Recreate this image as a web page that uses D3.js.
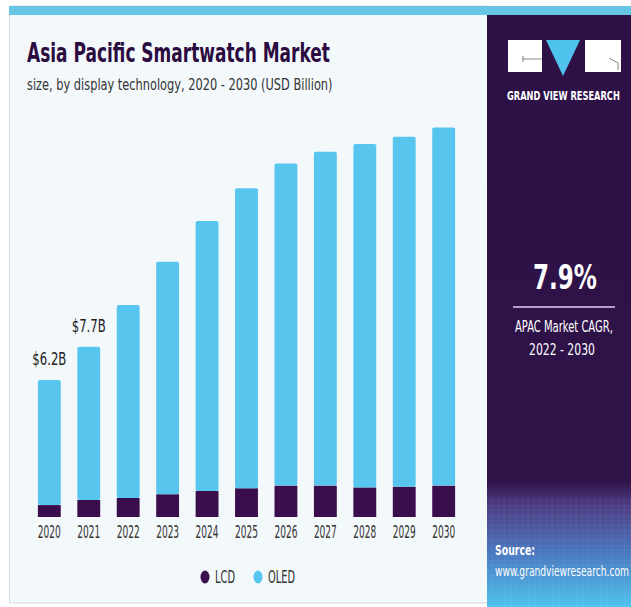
<!DOCTYPE html>
<html><head><meta charset="utf-8">
<script src="https://cdn.jsdelivr.net/npm/d3@7"></script>
<style>
html,body{margin:0;padding:0;background:#fff;}
svg{display:block;}
text{font-family:"DejaVu Sans Condensed","DejaVu Sans",sans-serif;font-stretch:condensed;}
</style></head><body>
<div id="chart"></div>
<script>
const years = ["2020","2021","2022","2023","2024","2025","2026","2027","2028","2029","2030"];
const lcd  = [0.54,0.77,0.86,1.03,1.18,1.30,1.42,1.42,1.34,1.37,1.42];
const oled = [5.66,6.93,8.73,10.52,12.21,13.57,14.58,15.11,15.54,15.84,16.21];
const valueLabels = ["$6.2B","$7.7B","","","","","","","","",""];
const seriesNames = ["LCD","OLED"];
const colors = {LCD:"#3a0e4c", OLED:"#58c5ef"};

const W = 631, H = 607;
const svg = d3.select("#chart").append("svg").attr("width", W).attr("height", H);
const defs = svg.append("defs");

// text squeezed horizontally to a target width with a real transform
function txt(sel, o){
  const g = sel.append("g");
  const t = g.append("text").attr("x",0).attr("y",0).attr("fill",o.fill||"#333")
    .attr("font-size",o.size).text(o.text);
  if (o.anchor) t.attr("text-anchor",o.anchor);
  if (o.bold) t.attr("font-weight","bold");
  const nat = t.node().getComputedTextLength();
  const s = o.len ? o.len / nat : 1;
  g.attr("transform", `translate(${o.x},${o.y}) scale(${s},1)`);
  return g;
}

// backgrounds
svg.append("rect").attr("x",0).attr("y",0).attr("width",W).attr("height",H).attr("fill","#ffffff");
svg.append("rect").attr("x",9.5).attr("y",6).attr("width",478).attr("height",597)
  .attr("fill","#f3f8fb").attr("stroke","#d6dade").attr("stroke-width",1);

// right panel gradient
const g1 = defs.append("linearGradient").attr("id","rp").attr("x1",0).attr("y1",0).attr("x2",0).attr("y2",1);
[[0,"#2d1046"],[0.79,"#2e1349"],[0.83,"#4d3c82"],[0.91,"#4a78c0"],[1,"#4fc3ee"]]
  .forEach(([o,c]) => g1.append("stop").attr("offset",o).attr("stop-color",c));
svg.append("rect").attr("x",487).attr("y",6).attr("width",W-487).attr("height",H-6).attr("fill","url(#rp)");
const pat = defs.append("pattern").attr("id","grid").attr("width",6).attr("height",5).attr("patternUnits","userSpaceOnUse");
pat.append("path").attr("d","M0 0H6M0 0V5").attr("stroke","#ffffff").attr("stroke-opacity",0.1).attr("stroke-width",0.8).attr("fill","none");
svg.append("rect").attr("x",487).attr("y",497).attr("width",W-487).attr("height",H-497).attr("fill","url(#grid)");

// top stripe
svg.append("rect").attr("x",9).attr("y",6).attr("width",W-9).attr("height",9).attr("fill","#66c6e4");

// title
txt(svg,{x:27,y:62,fill:"#2b0b40",size:27,bold:true,len:303,text:"Asia Pacific Smartwatch Market"});
txt(svg,{x:27,y:90,fill:"#333",size:16,len:306,text:"size, by display technology, 2020 - 2030 (USD Billion)"});

// scales
const x = d3.scaleBand().domain(years).range([30, 463]).paddingInner(0.42).paddingOuter(0.2);
const y = d3.scaleLinear().domain([0, 18]).range([517, 517 - 22.1*18]);

const data = years.map((yr,i) => ({year:yr, LCD:lcd[i], OLED:oled[i]}));
const stack = d3.stack().keys(seriesNames)(data);

const gBars = svg.append("g");
stack.forEach(layer => {
  gBars.selectAll(null).data(layer).enter().append("rect")
    .attr("x", d => x(d.data.year))
    .attr("width", x.bandwidth())
    .attr("y", d => y(d[1]))
    .attr("height", d => y(d[0]) - y(d[1]))
    .attr("rx", layer.key === "OLED" ? 2 : 0)
    .attr("fill", colors[layer.key]);
});

// value labels
const gVal = svg.append("g");
data.forEach((d,i) => {
  if (!valueLabels[i]) return;
  txt(gVal,{x:x(d.year)+x.bandwidth()/2, y:y(d.LCD+d.OLED)-15, anchor:"middle", size:18, fill:"#222", len:34, text:valueLabels[i]});
});

// x axis
const xAxis = svg.append("g").attr("transform","translate(0,517)")
  .call(d3.axisBottom(x).tickSize(0).tickPadding(9));
xAxis.select(".domain").remove();
xAxis.selectAll(".tick text").each(function(){
  const t = d3.select(this).attr("font-size",18.5).attr("fill","#333").attr("dy",null).attr("y",0)
    .style("font-family",'"DejaVu Sans Condensed","DejaVu Sans",sans-serif');
  const nat = this.getComputedTextLength();
  t.attr("transform",`translate(0,21) scale(${23/nat},1)`);
});

// legend
const leg = svg.append("g");
const legPos = [{k:"LCD",cx:205,tx:215,len:20},{k:"OLED",cx:258,tx:268,len:27}];
legPos.forEach(p => {
  leg.append("ellipse").attr("cx",p.cx).attr("cy",577).attr("rx",4.5).attr("ry",6.5).attr("fill",colors[p.k]);
  txt(leg,{x:p.tx,y:583,size:18.5,fill:"#333",len:p.len,text:p.k});
});

// logo
const logo = svg.append("g");
logo.append("rect").attr("x",508).attr("y",40).attr("width",34).attr("height",32).attr("fill","#ffffff");
logo.append("path").attr("d","M546 40H580L563 76Z").attr("fill","#4fc3ee");
logo.append("rect").attr("x",585).attr("y",40).attr("width",36).attr("height",32).attr("fill","#ffffff");
logo.append("path").attr("d","M522 59H542M523 56V62").attr("stroke","#888").attr("stroke-width",1).attr("fill","none");
logo.append("path").attr("d","M609 58L618 63V70").attr("stroke","#888").attr("stroke-width",1).attr("fill","none");
txt(svg,{x:507,y:100,fill:"#ffffff",size:12.5,bold:true,len:113,text:"GRAND VIEW RESEARCH"});

// CAGR
txt(svg,{x:533,y:289,fill:"#ffffff",size:33,bold:true,len:64,text:"7.9%"});
svg.append("line").attr("x1",513).attr("x2",615).attr("y1",307).attr("y2",307)
  .attr("stroke","#b59bd2").attr("stroke-width",2);
txt(svg,{x:515,y:332,fill:"#ffffff",size:16.5,len:98,text:"APAC Market CAGR,"});
txt(svg,{x:529,y:355,fill:"#ffffff",size:16.5,len:66,text:"2022 - 2030"});

// source
txt(svg,{x:495,y:555,fill:"#ffffff",size:13.5,bold:true,len:40,text:"Source:"});
txt(svg,{x:495,y:576,fill:"#ffffff",size:14,len:134,text:"www.grandviewresearch.com"});
</script>
</body></html>
